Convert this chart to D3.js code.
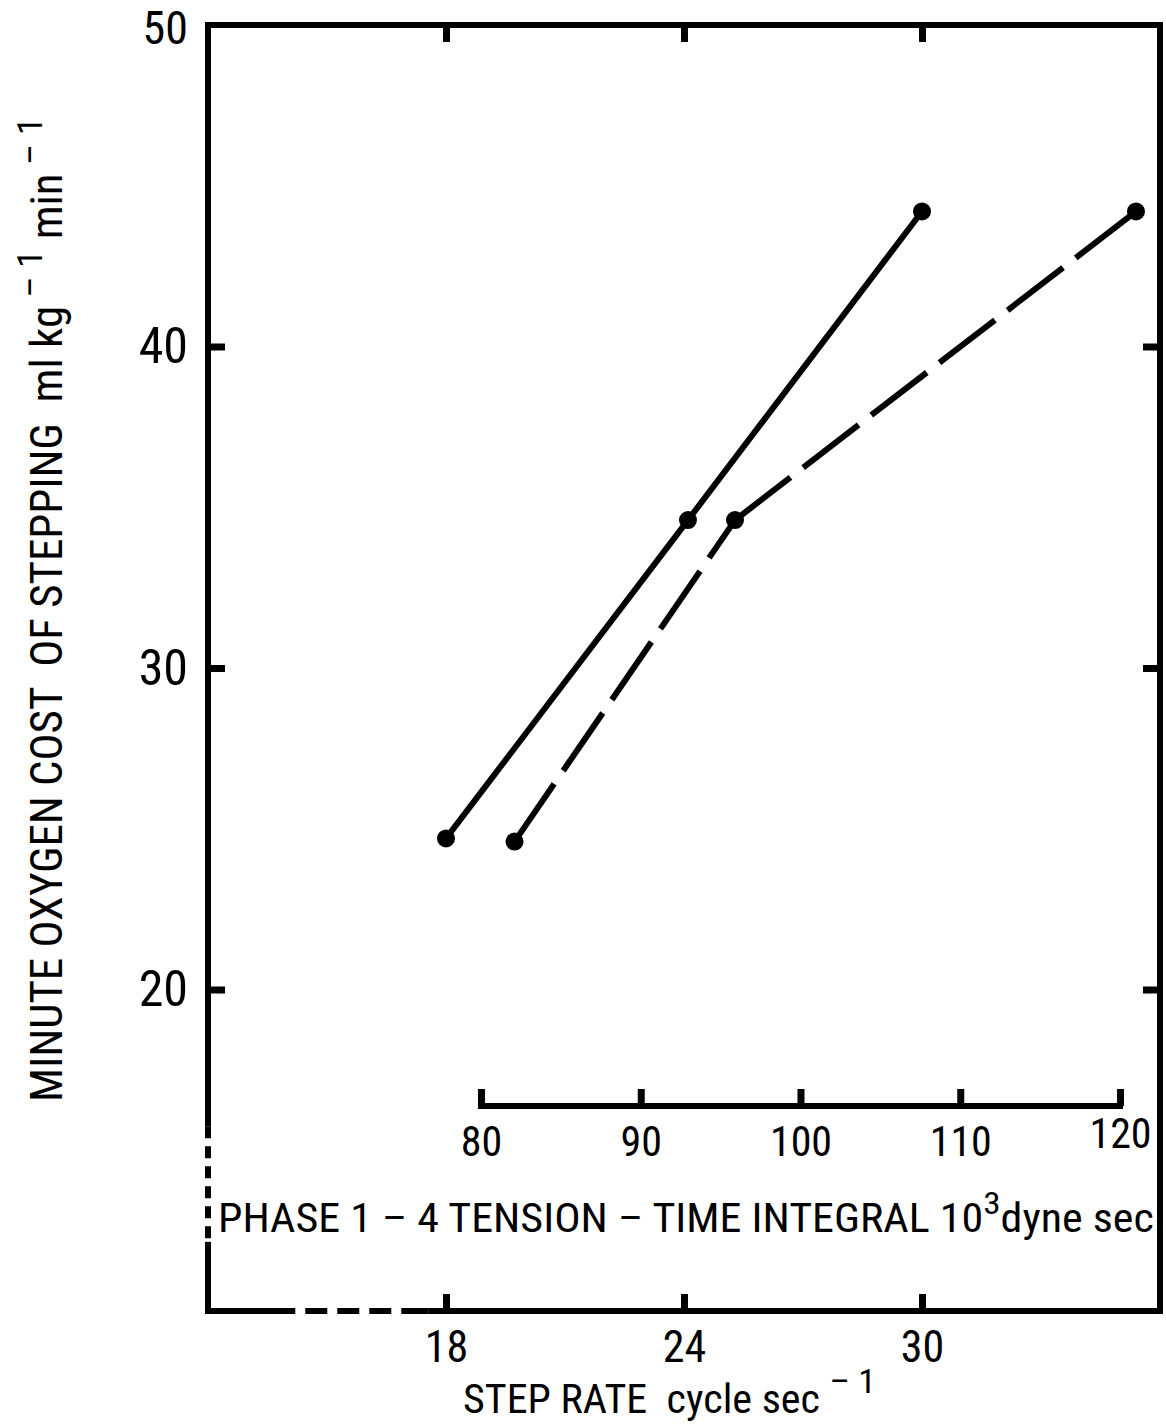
<!DOCTYPE html>
<html><head><meta charset="utf-8">
<script src="https://cdn.jsdelivr.net/npm/d3@7"></script>
<style>
html,body{margin:0;padding:0;background:#fff;}
svg text{font-family:"Liberation Sans Narrow","Roboto Condensed","Liberation Sans",Roboto,sans-serif;fill:#000;white-space:pre;}
</style></head>
<body>
<svg id="c" width="1166" height="1426"></svg>
<script>
// ---- data ----
const stepRateTicks = [18, 24, 30];
const oxygenTicks = [20, 30, 40, 50];
const tensionTicks = [80, 90, 100, 110, 120];
// solid line: oxygen cost vs step rate
const stepRate = [18, 24.1, 30];
const oxygenStep = [24.7, 34.6, 44.2];
// dashed line: oxygen cost vs tension-time integral
const tension = [82.1, 95.9, 121.0];
const oxygenTension = [24.6, 34.6, 44.2];

const svg = d3.select("#c");
const x = d3.scaleLinear().domain([12, 36]).range([208, 1160]);
const y = d3.scaleLinear().domain([10, 50]).range([1311, 25]);
const t = d3.scaleLinear().domain([80, 120]).range([481, 1120]);
const innerY = 1106;
const SW = 6;

// ---- frame ----
const frame = svg.append("g").attr("stroke", "#000").attr("stroke-width", SW).attr("fill", "none");
frame.append("line").attr("x1", x(12) - 3).attr("x2", x(36) + 3).attr("y1", y(50)).attr("y2", y(50));
frame.append("line").attr("x1", x(36)).attr("x2", x(36)).attr("y1", y(50)).attr("y2", y(10) + 3);
frame.append("line").attr("x1", x(12)).attr("x2", x(12)).attr("y1", y(50)).attr("y2", y(15.75));
frame.append("line").attr("x1", x(12)).attr("x2", x(12)).attr("y1", y(15.75)).attr("y2", y(12.15))
  .attr("stroke-dasharray", "12,8");
frame.append("line").attr("x1", x(12)).attr("x2", x(12)).attr("y1", y(12.15)).attr("y2", y(10) + 3);
frame.append("line").attr("x1", x(12) - 3).attr("x2", x(14.2)).attr("y1", y(10)).attr("y2", y(10));
frame.append("line").attr("x1", x(14.2)).attr("x2", x(17.55)).attr("y1", y(10)).attr("y2", y(10))
  .attr("stroke-dasharray", "0,10,22,10,22,10,22,10,22");
frame.append("line").attr("x1", x(17.55)).attr("x2", x(36) + 3).attr("y1", y(10)).attr("y2", y(10));

function styleAxis(g) {
  g.select(".domain").remove();
  g.selectAll(".tick line").attr("stroke", "#000").attr("stroke-width", 7);
  g.selectAll(".tick text").attr("fill", "#000");
}

// left axis
svg.append("g").attr("transform", `translate(${x(12)},0)`)
  .call(d3.axisLeft(y).tickValues(oxygenTicks).tickSize(-17).tickPadding(20).tickFormat(d3.format("d")))
  .call(styleAxis)
  .call(g => g.selectAll(".tick text").attr("font-size", 50))
  .call(g => g.selectAll(".tick").filter(d => d === 50).select("line").remove())
  .call(g => g.selectAll(".tick").filter(d => d === 50).select("text").attr("y", 4).attr("font-size", 46));
// right axis
svg.append("g").attr("transform", `translate(${x(36)},0)`)
  .call(d3.axisRight(y).tickValues([20, 30, 40]).tickSize(-17).tickFormat(""))
  .call(styleAxis);
// top axis
svg.append("g").attr("transform", `translate(0,${y(50)})`)
  .call(d3.axisTop(x).tickValues(stepRateTicks).tickSize(-17).tickFormat(""))
  .call(styleAxis);
// bottom axis
svg.append("g").attr("transform", `translate(0,${y(10)})`)
  .call(d3.axisBottom(x).tickValues(stepRateTicks).tickSize(-17).tickPadding(20).tickFormat(d3.format("d")))
  .call(styleAxis)
  .call(g => g.selectAll(".tick text").attr("font-size", 44));
// inner tension axis
const tg = svg.append("g").attr("transform", `translate(0,${innerY})`)
  .call(d3.axisBottom(t).tickValues(tensionTicks).tickSize(-17).tickPadding(20).tickFormat(d3.format("d")))
  .call(styleAxis)
  .call(g => g.selectAll(".tick text").attr("font-size", 42));
tg.selectAll(".tick").filter(d => d === 120).select("text").attr("y", 12);
tg.append("line").attr("x1", t(80) - 3).attr("x2", t(120) + 3).attr("y1", 0).attr("y2", 0)
  .attr("stroke", "#000").attr("stroke-width", SW);

// ---- data lines ----
const solidPts = stepRate.map((d, i) => [x(d), y(oxygenStep[i])]);
const dashPts = tension.map((d, i) => [t(d), y(oxygenTension[i])]);
const line = d3.line();
svg.append("path").attr("d", line(solidPts)).attr("fill", "none")
  .attr("stroke", "#000").attr("stroke-width", SW).attr("stroke-linejoin", "round");
for (let i = 0; i < dashPts.length - 1; i++) {
  svg.append("path").attr("d", line([dashPts[i], dashPts[i + 1]])).attr("fill", "none")
    .attr("stroke", "#000").attr("stroke-width", SW).attr("stroke-dasharray", "70,16");
}
svg.selectAll("circle.s").data(solidPts).join("circle").attr("class", "s")
  .attr("cx", d => d[0]).attr("cy", d => d[1]).attr("r", 9).attr("fill", "#000");
svg.selectAll("circle.d").data(dashPts).join("circle").attr("class", "d")
  .attr("cx", d => d[0]).attr("cy", d => d[1]).attr("r", 9).attr("fill", "#000");

// ---- titles ----
function fitX(sel, x0, x1) {
  const bb = sel.node().getBBox();
  const sx = (x1 - x0) / bb.width;
  sel.attr("transform", `translate(${x0},0) scale(${sx},1) translate(${-bb.x},0)`);
}
// phase label
const ph = svg.append("text").attr("y", 1232).attr("font-size", 40);
ph.append("tspan").text("PHASE 1 \u2013 4 TENSION \u2013 TIME INTEGRAL 10");
ph.append("tspan").attr("dy", -18).attr("font-size", 32).text("3");
ph.append("tspan").attr("dy", 18).text("dyne sec");
fitX(ph, 218, 1154);

// x title
const xt = svg.append("text").attr("y", 1413).attr("font-size", 40);
xt.append("tspan").text("STEP RATE  cycle sec ");
xt.append("tspan").attr("dy", -20).attr("font-size", 34).text("\u2013 1");
fitX(xt, 463, 876);

// y title (rotated)
const ytG = svg.append("g").attr("transform", "translate(62,1102) rotate(-90)");
const yt = ytG.append("text").attr("y", 0).attr("font-size", 44);
yt.append("tspan").text("MINUTE OXYGEN COST  OF STEPPING  ml kg");
yt.append("tspan").attr("dy", -20).attr("font-size", 36).text(" \u2013 1");
yt.append("tspan").attr("dy", 20).text(" min");
yt.append("tspan").attr("dy", -20).attr("font-size", 36).text(" \u2013 1");
fitX(yt, 0, 985);
</script>
</body></html>
